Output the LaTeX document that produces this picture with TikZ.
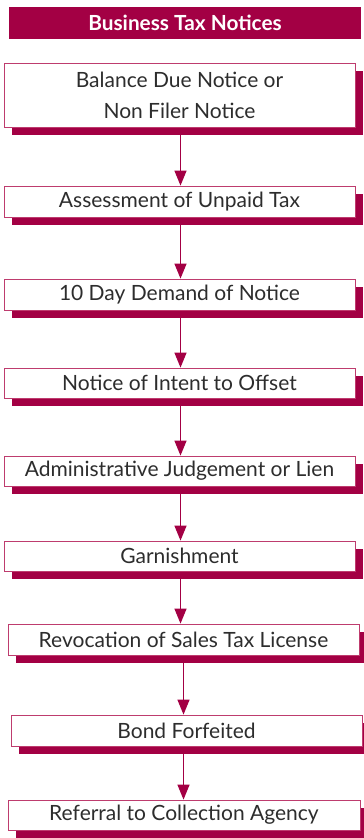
\documentclass[tikz,border=0pt]{standalone}
\usepackage{fontspec}
\setmainfont{Lato}
\usetikzlibrary{arrows.meta,shadows}
\definecolor{crim}{RGB}{163,0,68}
\definecolor{edge}{RGB}{190,60,110}
\definecolor{txt}{RGB}{45,45,45}
\begin{document}
\begin{tikzpicture}[x=1pt,y=-1pt,
  flowbox/.style={draw=edge, line width=0.8pt, fill=white, text=txt, inner sep=0pt,
    font=\fontsize{21}{31}\selectfont, align=center,
    general shadow={fill=crim, shadow xshift=8pt, shadow yshift=-8pt}},
  arr/.style={crim, line width=1.3pt, -{Triangle[length=15pt,width=12pt]}}]
\useasboundingbox (0,0) rectangle (364,838);
\node[fill=crim, text=white, font=\fontsize{20.8}{24}\selectfont\bfseries,
  minimum width=352, minimum height=31.5, inner sep=0pt] (title) at (185,22.75) {Business Tax Notices};
\node[flowbox, minimum width=351, minimum height=64] (b1) at (179.5,95) {Balance Due Notice or\\Non Filer Notice};
\node[flowbox, minimum width=351, minimum height=31] (b2) at (179.5,201.5) {Assessment of Unpaid Tax};
\node[flowbox, minimum width=351, minimum height=31] (b3) at (179.5,294.5) {10 Day Demand of Notice};
\node[flowbox, minimum width=351, minimum height=30] (b4) at (179.5,383) {Notice of Intent to Offset};
\node[flowbox, minimum width=351, minimum height=30] (b5) at (179.5,471) {Administrative Judgement or Lien};
\node[flowbox, minimum width=351, minimum height=30] (b6) at (179.5,556) {Garnishment};
\node[flowbox, minimum width=351, minimum height=31] (b7) at (183.5,639.5) {Revocation of Sales Tax License};
\node[flowbox, minimum width=351, minimum height=31] (b8) at (186.5,730.5) {Bond Forfeited};
\node[flowbox, minimum width=352, minimum height=30] (b9) at (184,815) {Referral to Collection Agency};
\draw[arr] ([yshift=-8pt,xshift=1pt]b1.south) -- ([xshift=1pt]b1.south |- b2.north);
\draw[arr] ([yshift=-8pt,xshift=1pt]b2.south) -- ([xshift=1pt]b2.south |- b3.north);
\draw[arr] ([yshift=-8pt,xshift=1pt]b3.south) -- ([xshift=1pt]b3.south |- b4.north);
\draw[arr] ([yshift=-8pt,xshift=1pt]b4.south) -- ([xshift=1pt]b4.south |- b5.north);
\draw[arr] ([yshift=-8pt,xshift=1pt]b5.south) -- ([xshift=1pt]b5.south |- b6.north);
\draw[arr] ([yshift=-8pt,xshift=1pt]b6.south) -- ([xshift=1pt]b6.south |- b7.north);
\draw[arr] ([yshift=-8pt]b7.south) -- (b7.south |- b8.north);
\draw[arr] ([yshift=-8pt]b7.south |- b8.south) -- (b7.south |- b9.north);
\end{tikzpicture}
\end{document}
